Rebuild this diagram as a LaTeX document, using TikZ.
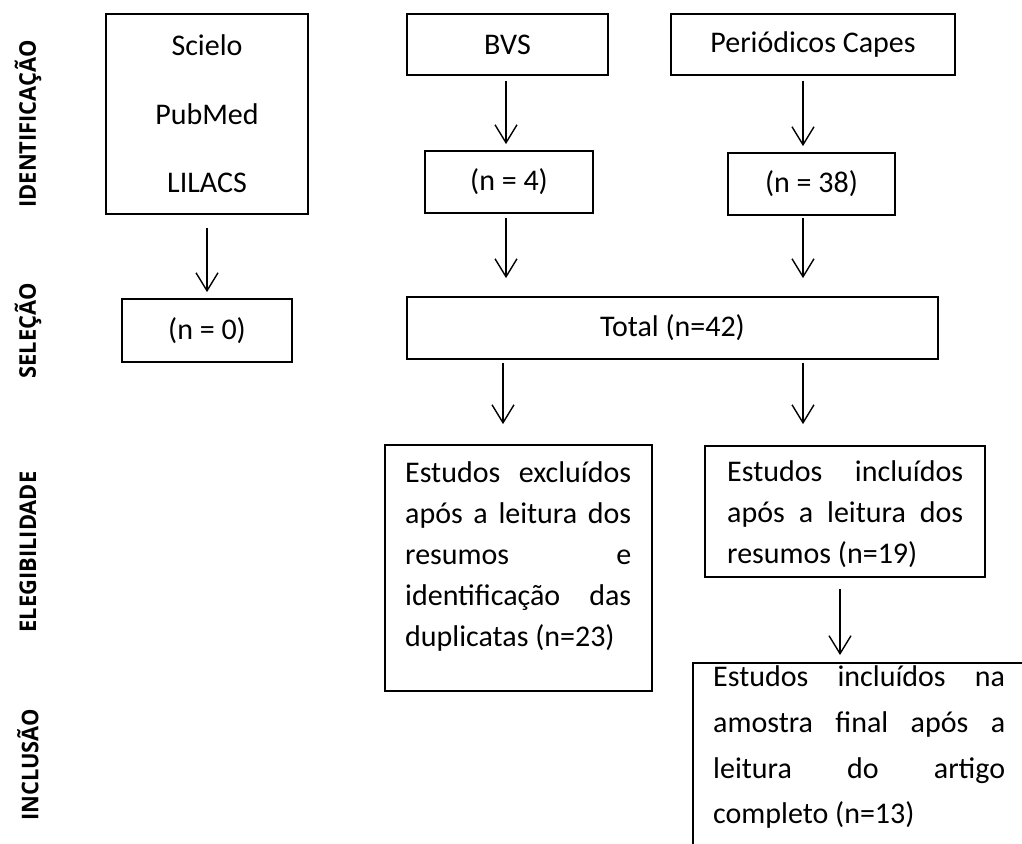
\documentclass[tikz,border=0pt]{standalone}
\usepackage{fontspec}
\setmainfont{Carlito}
\newfontfamily\lblfont{Open Sans}
\usetikzlibrary{arrows.meta}
\newcommand{\justln}[2]{\rule{0pt}{26pt}\makebox[#1][s]{#2}}
\newcommand{\lastln}[1]{\rule{0pt}{26pt}#1}
\begin{document}
\begin{tikzpicture}[x=1pt,y=-1pt,
  box/.style={draw, line width=1.8pt, rectangle, inner sep=0pt},
  arr/.style={line width=1.4pt, -{Straight Barb[length=18pt,width=22pt,line width=1.4pt]}},
  txt/.style={font=\fontsize{30}{36}\selectfont},
  para/.style={anchor=north west, inner sep=0pt, align=left},
  lbl/.style={rotate=90, inner sep=0pt, font=\lblfont\bfseries\fontsize{23}{23}\selectfont}]
\useasboundingbox (0,0) rectangle (1022,843);
\clip (0,0) rectangle (1022,843);
% stage labels
\node[lbl] (l1) at (28,124) {\scalebox{0.95}[1]{IDENTIFICAÇÃO}};
\node[lbl] (l2) at (28,331) {\scalebox{0.95}[1]{SELEÇÃO}};
\node[lbl] (l3) at (28,552) {\scalebox{0.95}[1]{ELEGIBILIDADE}};
\node[lbl] (l4) at (28,765) {\scalebox{0.95}[1]{INCLUSÃO}};
% columns for arrows
\coordinate (c0) at (503,0);
\coordinate (c1) at (506,0);
\coordinate (c2) at (803,0);
\coordinate (c3) at (840,0);
% boxes
\node[box, minimum width=202, minimum height=200, align=center,
      font=\fontsize{30}{68.5}\selectfont] (scielo) at (207,114) {Scielo\\PubMed\\LILACS};
\node[box, txt, minimum width=170, minimum height=63] (n0) at (207,330.5) {(n = 0)};
\node[box, txt, minimum width=201, minimum height=61] (bvs) at (507.5,44.5) {BVS};
\node[box, txt, minimum width=284, minimum height=61] (capes) at (813,44.5) {Periódicos Capes};
\node[box, txt, minimum width=168, minimum height=62] (n4) at (509,182) {(n = 4)};
\node[box, txt, minimum width=167, minimum height=62] (n38) at (811.5,184) {(n = 38)};
\node[box, txt, minimum width=531, minimum height=62] (total) at (672.5,328) {Total (n=42)};
\node[box, minimum width=267, minimum height=246] (excl) at (518.5,568) {};
\node[box, minimum width=280, minimum height=131] (incl) at (845,511.5) {};
\node[box, anchor=north west, minimum width=340, minimum height=260] (final) at (692,662) {};
% texts of the large boxes
\node[para, font=\fontsize{30}{41}\selectfont] (excltext) at (405,456.5) {%
\justln{226pt}{Estudos excluídos}\\
\justln{226pt}{após a leitura dos}\\
\justln{226pt}{resumos e}\\
\justln{226pt}{identificação das}\\
\lastln{duplicatas (n=23)}};
\node[para, font=\fontsize{30}{41}\selectfont] (incltext) at (727,455.5) {%
\justln{236pt}{Estudos incluídos}\\
\justln{236pt}{após a leitura dos}\\
\lastln{resumos (n=19)}};
\node[para, font=\fontsize{30}{45.7}\selectfont] (finaltext) at (713,660.5) {%
\justln{292pt}{Estudos incluídos na}\\
\justln{292pt}{amostra final após a}\\
\justln{292pt}{leitura do artigo}\\
\lastln{completo (n=13)}};
% arrows
\draw[arr] ([yshift=-13pt]scielo.south) -- ([yshift=6pt]n0.north);
\draw[arr] ([yshift=-5pt]bvs.south -| c1) -- ([yshift=6pt]n4.north -| c1);
\draw[arr] ([yshift=-5pt]capes.south -| c2) -- ([yshift=6pt]n38.north -| c2);
\draw[arr] ([yshift=-4pt]n4.south -| c1) -- ([yshift=18pt]total.north -| c1);
\draw[arr] ([yshift=-2pt]n38.south -| c2) -- ([yshift=18pt]total.north -| c2);
\draw[arr] ([yshift=-3pt]total.south -| c0) -- ([yshift=20pt]excl.north -| c0);
\draw[arr] ([yshift=-3pt]total.south -| c2) -- ([yshift=21pt]incl.north -| c2);
\draw[arr] ([yshift=-11pt]incl.south -| c3) -- ([yshift=7pt]final.north -| c3);
\end{tikzpicture}
\end{document}
